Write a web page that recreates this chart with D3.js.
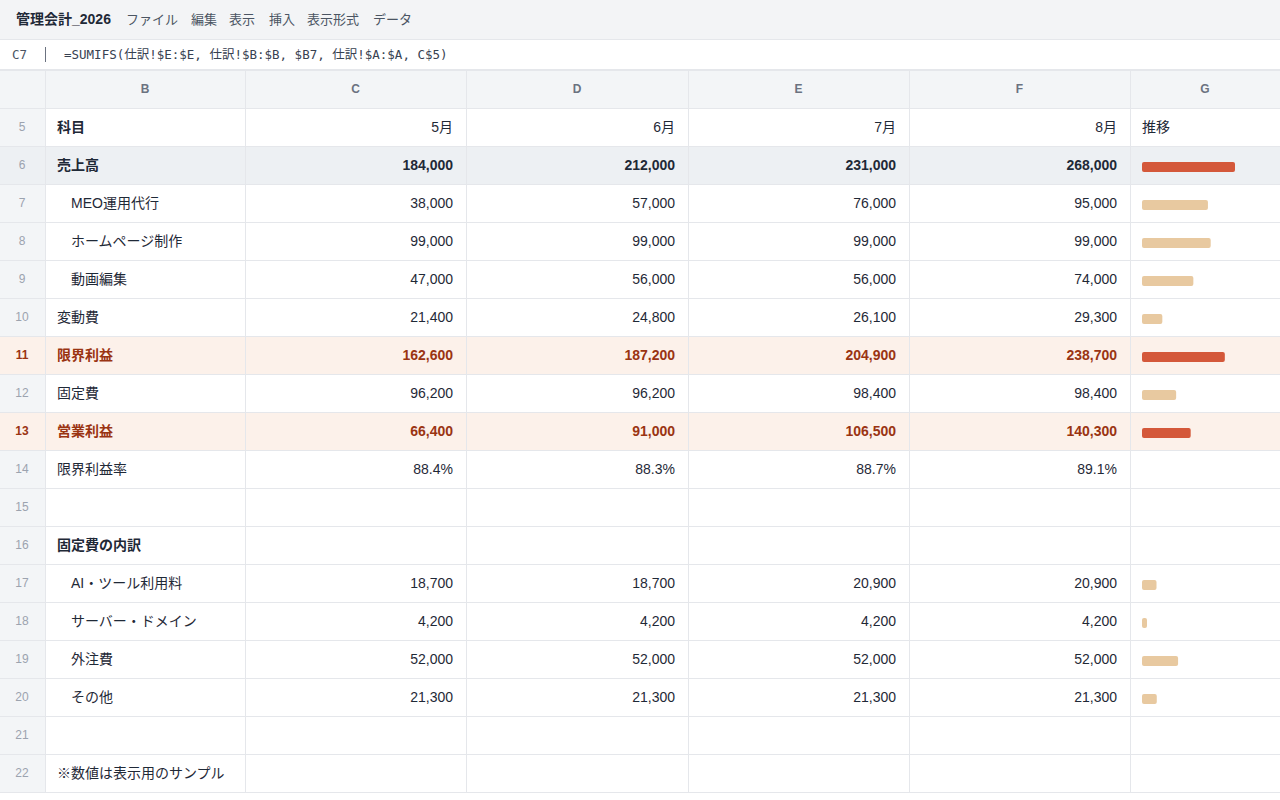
<html>
<head>
<meta http-equiv="Content-Type" content="text/html;charset=UTF-8">
<title>管理会計_2026</title>
<style type="text/css">
  *{margin:0;padding:0;}
  body{background:#fff;}
  svg{display:block;}
</style>
</head>
<body>
<svg id="sheet"></svg>
<script src="https://cdn.jsdelivr.net/npm/d3@7/dist/d3.min.js"></script>
<script>
// ---- data ----
var months = ["5月", "6月", "7月", "8月"];
var colLetters = ["B", "C", "D", "E", "F", "G"];
var rowNums = [5, 6, 7, 8, 9, 10, 11, 12, 13, 14, 15, 16, 17, 18, 19, 20, 21, 22];

var labels = ["科目", "売上高", "MEO運用代行", "ホームページ制作", "動画編集", "変動費",
  "限界利益", "固定費", "営業利益", "限界利益率", "", "固定費の内訳",
  "AI・ツール利用料", "サーバー・ドメイン", "外注費", "その他", "", "※数値は表示用のサンプル"];

// row kinds: head, total, detail, plain, profit, empty, section, note
var kinds = ["head", "total", "detail", "detail", "detail", "plain",
  "profit", "plain", "profit", "plain", "empty", "section",
  "detail", "detail", "detail", "detail", "empty", "note"];

var sales      = [184000, 212000, 231000, 268000];
var meo        = [38000, 57000, 76000, 95000];
var homepage   = [99000, 99000, 99000, 99000];
var video      = [47000, 56000, 56000, 74000];
var varCost    = [21400, 24800, 26100, 29300];
var margin     = [162600, 187200, 204900, 238700];
var fixedCost  = [96200, 96200, 98400, 98400];
var opProfit   = [66400, 91000, 106500, 140300];
var marginRate = [88.4, 88.3, 88.7, 89.1];
var aiTools    = [18700, 18700, 20900, 20900];
var server     = [4200, 4200, 4200, 4200];
var outsource  = [52000, 52000, 52000, 52000];
var other      = [21300, 21300, 21300, 21300];

var rowValues = [null, sales, meo, homepage, video, varCost, margin, fixedCost, opProfit,
  marginRate, null, null, aiTools, server, outsource, other, null, null];

// trend bar: which scale ("main" / "sub") and colour ("dark" / "light")
var trendScale = [null, "main", "sub", "sub", "sub", "sub", "main", "main", "main",
  null, null, null, "sub", "sub", "sub", "sub", null, null];
var trendTone = [null, "dark", "light", "light", "light", "light", "dark", "light", "dark",
  null, null, null, "light", "light", "light", "light", null, null];

// ---- layout ----
var W = 1280, H = 800;
var colEdges = [0, 45, 245, 466, 688, 909, 1130, 1280];
var gridTop = 70, headH = 38, rowH = 38;
var line = "#e5e7eb";
var sans = "'Liberation Sans', 'Noto Sans CJK JP', sans-serif";
var mono = "'DejaVu Sans Mono', 'Noto Sans CJK JP', monospace";

var svg = d3.select("#sheet").attr("width", W).attr("height", H);

// top bar
svg.append("rect").attr("x", 0).attr("y", 0).attr("width", W).attr("height", 40).attr("fill", "#f3f4f6");
svg.append("line").attr("x1", 0).attr("x2", W).attr("y1", 39.5).attr("y2", 39.5).attr("stroke", line);
svg.append("text").attr("x", 16).attr("y", 24).text("管理会計_2026")
  .attr("font-family", sans).attr("font-size", 14).attr("font-weight", "bold").attr("fill", "#1f2937");

var menus = ["ファイル", "編集", "表示", "挿入", "表示形式", "データ"];
var menuX = [126, 191, 229, 269, 307, 373];
svg.selectAll("text.menu").data(menus).enter().append("text")
  .attr("class", "menu")
  .attr("x", function(d, i){ return menuX[i]; })
  .attr("y", 24)
  .attr("font-family", sans).attr("font-size", 13).attr("fill", "#4b5563")
  .text(function(d){ return d; });

// formula bar
svg.append("line").attr("x1", 0).attr("x2", W).attr("y1", 69.5).attr("y2", 69.5).attr("stroke", line);
svg.append("text").attr("x", 12).attr("y", 59).text("C7")
  .attr("font-family", mono).attr("font-size", 12.5).attr("fill", "#4b5563");
svg.append("line").attr("x1", 45.5).attr("x2", 45.5).attr("y1", 47).attr("y2", 62).attr("stroke", "#6b7280");
svg.append("text").attr("x", 64).attr("y", 59)
  .text("=SUMIFS(仕訳!$E:$E, 仕訳!$B:$B, $B7, 仕訳!$A:$A, C$5)")
  .attr("font-family", mono).attr("font-size", 12.5).attr("fill", "#374151");

// column header
var y0 = d3.scaleBand().domain(rowNums).range([gridTop + headH, gridTop + headH + rowNums.length * rowH]);

svg.append("rect").attr("x", 0).attr("y", gridTop).attr("width", W).attr("height", headH).attr("fill", "#f3f5f7");
svg.selectAll("text.colhead").data(colLetters).enter().append("text")
  .attr("class", "colhead")
  .attr("x", function(d, i){ return (colEdges[i + 1] + colEdges[i + 2]) / 2; })
  .attr("y", gridTop + headH / 2 + 4)
  .attr("text-anchor", "middle")
  .attr("font-family", sans).attr("font-size", 12).attr("font-weight", "bold").attr("fill", "#6b7280")
  .text(function(d){ return d; });

// rows
var rows = svg.selectAll("g.row").data(rowNums).enter().append("g")
  .attr("class", "row")
  .attr("transform", function(d){ return "translate(0," + y0(d) + ")"; });

function rowFill(k){
  if (k === "total") return "#edf0f3";
  if (k === "profit") return "#fcf1ea";
  return "#fff";
}

rows.append("rect").attr("x", 0).attr("y", 0).attr("width", W).attr("height", rowH)
  .attr("fill", function(d, i){ return rowFill(kinds[i]); });

// row-number column
rows.append("rect").attr("x", 0).attr("y", 0).attr("width", 45).attr("height", rowH)
  .attr("fill", function(d, i){ return kinds[i] === "total" || kinds[i] === "profit" ? rowFill(kinds[i]) : "#f3f5f7"; });
rows.append("text")
  .attr("x", 22).attr("y", rowH / 2 + 4).attr("text-anchor", "middle")
  .attr("font-family", sans).attr("font-size", 12)
  .attr("font-weight", function(d, i){ return kinds[i] === "profit" ? "bold" : "normal"; })
  .attr("fill", function(d, i){ return kinds[i] === "profit" ? "#9a3412" : "#9ca3af"; })
  .text(function(d){ return d; });

function isBold(k){ return k === "head" || k === "total" || k === "profit" || k === "section"; }
function textColor(k){ return k === "profit" ? "#9a3412" : "#1f2937"; }

// labels
rows.append("text")
  .attr("x", function(d, i){ return kinds[i] === "detail" ? 71 : 57; })
  .attr("y", rowH / 2 + 5)
  .attr("font-family", sans).attr("font-size", 14)
  .attr("font-weight", function(d, i){ return isBold(kinds[i]) ? "bold" : "normal"; })
  .attr("fill", function(d, i){ return textColor(kinds[i]); })
  .text(function(d, i){ return labels[i]; });

// values
var fmt = d3.format(",");
rows.each(function(d, i){
  var g = d3.select(this);
  var k = kinds[i];
  var cells;
  if (k === "head") cells = months;
  else if (rowValues[i] === marginRate) cells = marginRate.map(function(v){ return v.toFixed(1) + "%"; });
  else if (rowValues[i]) cells = rowValues[i].map(fmt);
  else return;
  g.selectAll("text.val").data(cells).enter().append("text")
    .attr("class", "val")
    .attr("x", function(c, j){ return colEdges[j + 3] - 13; })
    .attr("y", rowH / 2 + 5)
    .attr("text-anchor", "end")
    .attr("font-family", sans).attr("font-size", 14)
    .attr("font-weight", isBold(k) && k !== "head" ? "bold" : "normal")
    .attr("fill", textColor(k))
    .text(function(c){ return c; });
});

// "推移" header
rows.filter(function(d, i){ return kinds[i] === "head"; }).append("text")
  .attr("x", 1142).attr("y", rowH / 2 + 5)
  .attr("font-family", sans).attr("font-size", 14).attr("fill", "#1f2937")
  .text("推移");

// trend bars (latest month)
var mainScale = d3.scaleLinear().domain([0, d3.max(sales)]).range([0, 93]);
var subScale = d3.scaleLinear().domain([0, 134000]).range([0, 93]);
var tones = { dark: "#d4583a", light: "#e8c9a0" };

rows.filter(function(d, i){ return trendScale[i] !== null; }).append("rect")
  .attr("x", 1142)
  .attr("y", rowH / 2 - 3)
  .attr("height", 10)
  .attr("rx", 2)
  .attr("width", function(d){
    var i = rowNums.indexOf(d);
    var v = rowValues[i][rowValues[i].length - 1];
    var s = trendScale[i] === "main" ? mainScale : subScale;
    return Math.max(5, s(v));
  })
  .attr("fill", function(d){ return tones[trendTone[rowNums.indexOf(d)]]; });

// grid lines
var gridBottom = gridTop + headH + rowNums.length * rowH;
var hLines = [gridTop, gridTop + headH].concat(rowNums.map(function(d){ return y0(d) + rowH; }));
svg.selectAll("line.h").data(hLines).enter().append("line")
  .attr("class", "h")
  .attr("x1", 0).attr("x2", W)
  .attr("y1", function(d){ return d + 0.5; }).attr("y2", function(d){ return d + 0.5; })
  .attr("stroke", line);
svg.selectAll("line.v").data(colEdges.slice(1, 7)).enter().append("line")
  .attr("class", "v")
  .attr("x1", function(d){ return d + 0.5; }).attr("x2", function(d){ return d + 0.5; })
  .attr("y1", gridTop).attr("y2", gridBottom)
  .attr("stroke", line);
</script>
</body>
</html>
